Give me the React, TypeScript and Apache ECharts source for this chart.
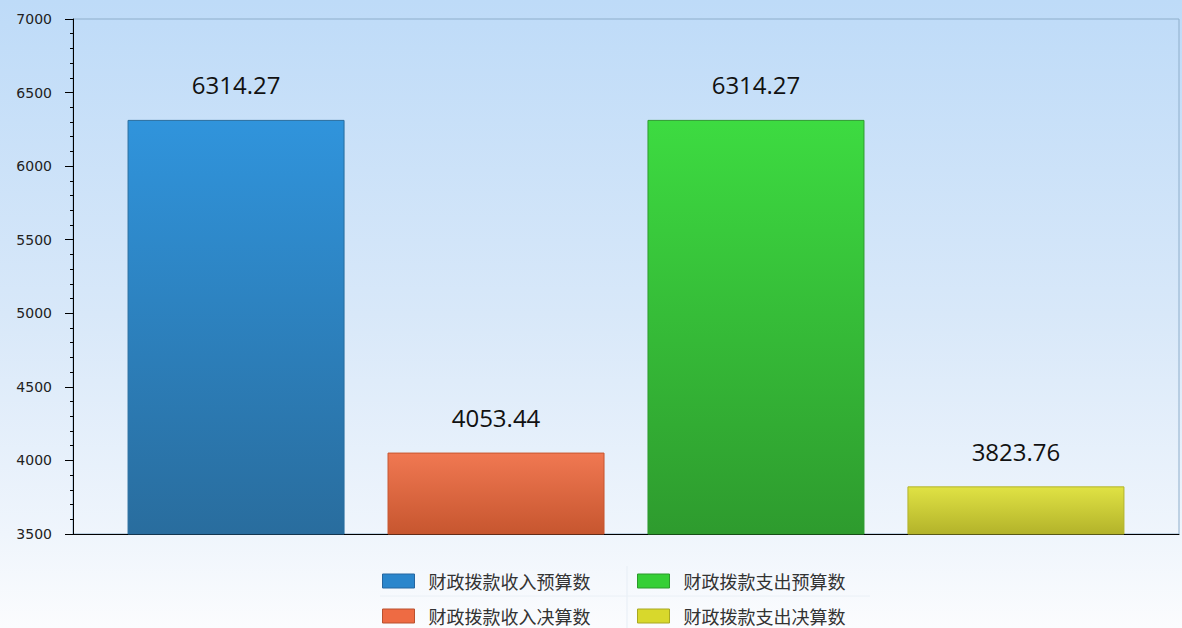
import React, { useEffect, useRef } from "react";
import * as echarts from "echarts";

const categories = [""];
const seriesNames = ["财政拨款收入预算数", "财政拨款收入决算数", "财政拨款支出预算数", "财政拨款支出决算数"];
const seriesValues = [6314.27, 4053.44, 6314.27, 3823.76];
const yTicks = { min: 3500, max: 7000, interval: 500 };
const topColors = ["#3094dc", "#f07852", "#3ddb41", "#e0e244"];
const bottomColors = ["#296d9e", "#c7562f", "#2e9b2e", "#b3b32a"];
const legendColors = ["#2a86cc", "#ee6b43", "#35cf36", "#d8d82c"];
const legendBorders = ["#2566a0", "#b9512f", "#2a9a2a", "#a8a822"];

export default function App() {
  const ref = useRef<HTMLDivElement>(null);
  useEffect(() => {
    if (!ref.current) return;
    const chart = echarts.init(ref.current, null, { renderer: "svg" });
    const series = seriesNames.map((name, i) => ({
      name,
      type: "bar",
      barWidth: 217,
      barGap: "19.8%",
      data: [seriesValues[i]],
      itemStyle: {
        color: new echarts.graphic.LinearGradient(0, 0, 0, 1, [
          { offset: 0, color: topColors[i] },
          { offset: 1, color: bottomColors[i] },
        ]),
        borderColor: bottomColors[i],
        borderWidth: 1,
      },
      label: {
        show: true,
        position: "top",
        distance: 23,
        fontFamily: "Open Sans",
        fontSize: 24,
        color: "#111",
        formatter: (p: any) => p.value.toFixed(2),
      },
    }));
    const legendPos = [
      [382, 572],
      [382, 607],
      [637, 572],
      [637, 607],
    ];
    const legends = seriesNames.map((name, i) => ({
      left: legendPos[i][0],
      top: legendPos[i][1],
      itemWidth: 32,
      itemHeight: 14,
      padding: 0,
      icon: "rect",
      textStyle: {
        fontFamily: "Noto Sans CJK SC",
        fontSize: 18,
        lineHeight: 18,
        color: "#333",
        padding: [0, 0, 0, 9],
      },
      data: [
        {
          name,
          itemStyle: { color: legendColors[i], borderColor: legendBorders[i], borderWidth: 1 },
        },
      ],
    }));
    chart.setOption({
      animation: false,
      backgroundColor: new echarts.graphic.LinearGradient(0, 0, 0, 1, [
        { offset: 0, color: "#bedbf8" },
        { offset: 0.5, color: "#d8e8f9" },
        { offset: 0.85, color: "#eff5fc" },
        { offset: 1, color: "#fbfcfe" },
      ]),
      grid: {
        left: 73,
        right: 3,
        top: 19,
        bottom: 94,
        show: true,
        borderColor: "#8eaecb",
        borderWidth: 1,
        backgroundColor: "transparent",
      },
      legend: legends,
      graphic: [
        { type: "line", shape: { x1: 627, y1: 566, x2: 627, y2: 628 }, style: { stroke: "#e6edf5", lineWidth: 1 } },
        { type: "line", shape: { x1: 380, y1: 596, x2: 870, y2: 596 }, style: { stroke: "#eaf0f6", lineWidth: 1 } },
      ],
      xAxis: {
        type: "category",
        data: categories,
        axisLine: { show: true, lineStyle: { color: "#000", width: 1 } },
        axisTick: { show: false },
        axisLabel: { show: false },
      },
      yAxis: {
        type: "value",
        min: yTicks.min,
        max: yTicks.max,
        interval: yTicks.interval,
        axisLine: { show: true, lineStyle: { color: "#000", width: 1 } },
        axisTick: { show: true, length: 8, lineStyle: { color: "#000" } },
        minorTick: { show: true, splitNumber: 5, length: 3, lineStyle: { color: "#000" } },
        splitLine: { show: false },
        axisLabel: {
          margin: 21,
          fontFamily: "DejaVu Sans",
          fontSize: 14,
          color: "#222",
          formatter: (v: number) => String(v),
        },
      },
      series,
    });
    return () => chart.dispose();
  }, []);
  return (
    <div
      ref={ref}
      style={{ position: "fixed", left: 0, top: 0, width: 1182, height: 628 }}
    />
  );
}
